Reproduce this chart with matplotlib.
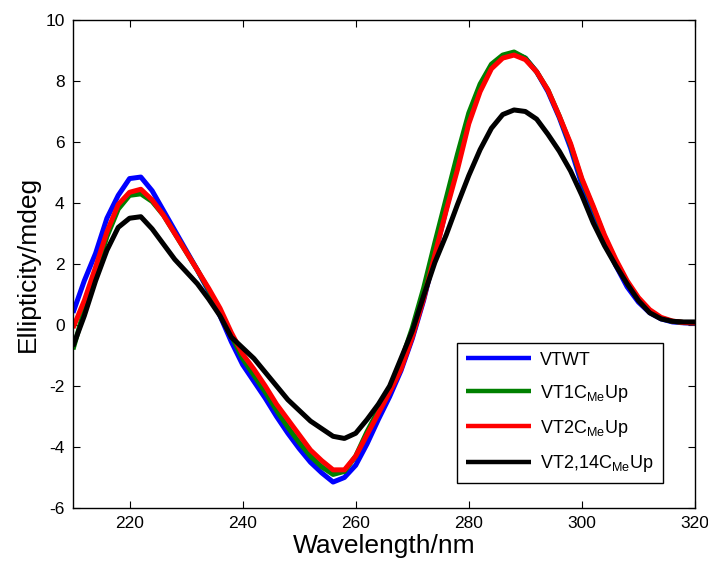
import numpy as np
import matplotlib
matplotlib.use('Agg')
import matplotlib.pyplot as plt

plt.rcParams['font.family'] = ['Liberation Sans', 'DejaVu Sans']
plt.rcParams['mathtext.fontset'] = 'custom'
plt.rcParams['mathtext.rm'] = 'Liberation Sans'
plt.rcParams['mathtext.it'] = 'Liberation Sans'
plt.rcParams['axes.unicode_minus'] = False

# wavelength grid (nm)
wavelength = np.arange(210, 321, 2)

vtwt = [0.4, 1.45, 2.35, 3.5, 4.25, 4.8, 4.85, 4.4, 3.75, 3.1,
        2.45, 1.8, 1.1, 0.3, -0.55, -1.3, -1.85, -2.4, -3.0, -3.55,
        -4.05, -4.5, -4.85, -5.15, -5.0, -4.6, -3.9, -3.1, -2.35, -1.5,
        -0.45, 0.8, 2.3, 3.8, 5.3, 6.7, 7.75, 8.45, 8.8, 8.9,
        8.75, 8.3, 7.65, 6.8, 5.8, 4.6, 3.7, 2.75, 1.95, 1.25,
        0.75, 0.4, 0.2, 0.1, 0.07, 0.06]

vt1 = [-0.8, 0.5, 1.7, 2.9, 3.8, 4.25, 4.3, 4.05, 3.6, 3.0,
       2.4, 1.8, 1.15, 0.45, -0.35, -1.1, -1.65, -2.2, -2.8, -3.35,
       -3.85, -4.3, -4.65, -4.9, -4.8, -4.3, -3.5, -2.8, -2.1, -1.2,
       -0.1, 1.2, 2.7, 4.15, 5.6, 6.95, 7.9, 8.55, 8.85, 8.95,
       8.75, 8.3, 7.7, 6.85, 5.9, 4.75, 3.85, 2.9, 2.1, 1.4,
       0.85, 0.45, 0.22, 0.12, 0.08, 0.07]

vt2 = [-0.1, 0.8, 1.9, 3.05, 3.95, 4.35, 4.45, 4.1, 3.6, 3.0,
       2.4, 1.8, 1.2, 0.55, -0.25, -0.95, -1.45, -2.0, -2.6, -3.1,
       -3.6, -4.1, -4.45, -4.75, -4.75, -4.3, -3.6, -2.9, -2.2, -1.45,
       -0.4, 0.85, 2.3, 3.75, 5.1, 6.6, 7.65, 8.4, 8.75, 8.85,
       8.7, 8.3, 7.7, 6.85, 5.95, 4.8, 3.9, 2.95, 2.15, 1.45,
       0.9, 0.5, 0.25, 0.13, 0.08, 0.07]

vt214 = [-0.7, 0.3, 1.45, 2.45, 3.2, 3.5, 3.55, 3.15, 2.65, 2.15,
         1.75, 1.35, 0.85, 0.3, -0.4, -0.75, -1.1, -1.55, -2.0, -2.45,
         -2.8, -3.15, -3.4, -3.65, -3.72, -3.55, -3.1, -2.6, -2.0, -1.1,
         -0.2, 0.95, 2.05, 2.95, 3.95, 4.9, 5.75, 6.45, 6.9, 7.05,
         7.0, 6.75, 6.25, 5.7, 5.05, 4.25, 3.35, 2.6, 1.95, 1.35,
         0.8, 0.4, 0.2, 0.12, 0.1, 0.1]

series = [
    (vtwt, 'VTWT', (0, 0, 1)),
    (vt1, r'VT1C$_{\mathrm{Me}}$Up', (0, 0.5, 0)),
    (vt2, r'VT2C$_{\mathrm{Me}}$Up', (1, 0, 0)),
    (vt214, r'VT2,14C$_{\mathrm{Me}}$Up', (0, 0, 0)),
]

fig = plt.figure(figsize=(7.08, 5.66), dpi=100)
ax = fig.add_axes([0.1031, 0.1025, 0.8785, 0.8622])

for vals, lab, col in series:
    ax.plot(wavelength, vals, color=col, lw=3.6, label=lab,
            solid_joinstyle='round', solid_capstyle='butt')

ax.set_xlim(210, 320)
ax.set_ylim(-6, 10)
ax.set_xticks(np.arange(220, 321, 20))
ax.set_yticks(np.arange(-6, 11, 2))
ax.tick_params(direction='in', top=True, right=True, length=5, width=0.8,
               labelsize=12.5, pad=6)
for sp in ax.spines.values():
    sp.set_linewidth(1.0)

ax.set_xlabel('Wavelength/nm', fontsize=19, labelpad=2)
ax.set_ylabel('Ellipticity/mdeg', fontsize=19, labelpad=4)

leg = ax.legend(loc='lower left', bbox_to_anchor=(0.603, 0.033),
                fontsize=13, fancybox=False, edgecolor='black',
                framealpha=1, handlelength=3.6, handletextpad=0.5,
                labelspacing=0.78, borderpad=0.5)
leg.get_frame().set_linewidth(1.0)
for line in leg.get_lines():
    line.set_linewidth(3.2)

fig.savefig('out.png', dpi=100)
